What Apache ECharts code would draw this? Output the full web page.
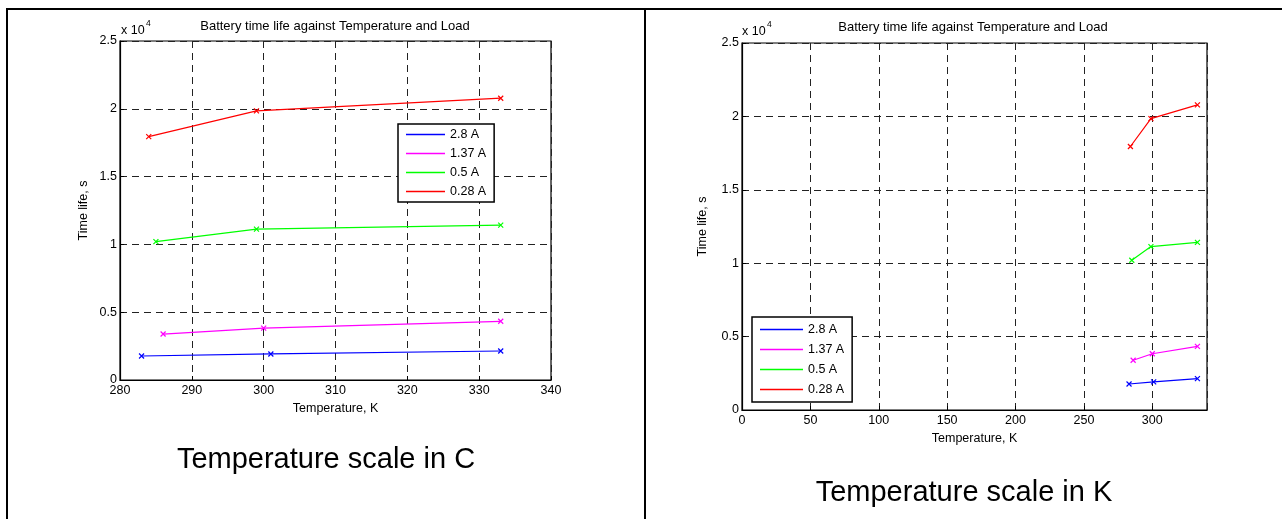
<!DOCTYPE html>
<html>
<head>
<meta charset="utf-8">
<title>Battery time life against Temperature and Load</title>
<script src="https://cdn.jsdelivr.net/npm/echarts@6/dist/echarts.min.js"></script>
<style>
  html, body { margin: 0; padding: 0; background: #fff; }
  #chart { width: 1282px; height: 519px; }
</style>
</head>
<body>
<div id="chart"></div>
<script>
// loads (legend order) and their colours
const loadNames = ["2.8 A", "1.37 A", "0.5 A", "0.28 A"]
const loadColors = ["#0000ff", "#ff00ff", "#00ff00", "#ff0000"]

// temperature (K) of each measurement, per load
const temp28 = [283, 301, 333]
const temp137 = [286, 300, 333]
const temp05 = [285, 299, 333]
const temp028 = [284, 299, 333]

// battery time life (s), per load
const life28 = [1770, 1920, 2140]
const life137 = [3390, 3830, 4330]
const life05 = [10200, 11130, 11420]
const life028 = [17950, 19850, 20780]

const temps = [temp28, temp137, temp05, temp028]
const lifes = [life28, life137, life05, life028]

const FONT = "'Liberation Sans', Arial, Helvetica, sans-serif"
const chartTitle = "Battery time life against Temperature and Load"
const captions = ["Temperature scale in C", "Temperature scale in K"]

const xMarker = "path://M0,0L10,10M10,0L0,10"

const gridDash = { color: "#222", width: 1, type: [7, 5] }

function xAxisFor(gridIndex, min, max, interval, nameGap) {
  return {
    type: "value",
    gridIndex,
    min,
    max,
    interval,
    name: "Temperature, K",
    nameLocation: "middle",
    nameGap,
    nameTextStyle: { color: "#000", fontSize: 12.5, fontFamily: FONT },
    axisLine: { show: true, onZero: false, lineStyle: { color: "#000", width: 1.2 } },
    axisTick: { show: true, inside: true, length: 4, lineStyle: { color: "#000" } },
    axisLabel: {
      color: "#000",
      fontSize: 12.5,
      fontFamily: FONT,
      margin: 4,
      showMaxLabel: max % interval === 0,
    },
    splitLine: { show: true, lineStyle: gridDash },
  }
}

function yAxisFor(gridIndex, nameGap) {
  return {
    type: "value",
    gridIndex,
    min: 0,
    max: 25000,
    interval: 5000,
    name: "Time life, s",
    nameLocation: "middle",
    nameRotate: 90,
    nameGap,
    nameTextStyle: { color: "#000", fontSize: 12.5, fontFamily: FONT },
    axisLine: { show: true, onZero: false, lineStyle: { color: "#000", width: 1.2 } },
    axisTick: { show: true, inside: true, length: 4, lineStyle: { color: "#000" } },
    axisLabel: {
      color: "#000",
      fontSize: 12.5,
      fontFamily: FONT,
      margin: 3,
      formatter: v => String(v / 10000),
    },
    splitLine: { show: true, lineStyle: gridDash },
  }
}

function seriesFor(gridIndex) {
  return loadNames.map((name, i) => ({
    type: "line",
    name,
    xAxisIndex: gridIndex,
    yAxisIndex: gridIndex,
    data: temps[i].map((t, k) => [t, lifes[i][k]]),
    symbol: xMarker,
    symbolSize: 5,
    showAllSymbol: true,
    lineStyle: { color: loadColors[i], width: 1.2 },
    itemStyle: { color: loadColors[i], borderColor: loadColors[i], borderWidth: 1.2 },
    emphasis: { disabled: true },
    animation: false,
  }))
}

function legendFor(left, top, padding, lineW, lineH) {
  return {
    orient: "vertical",
    left,
    top,
    padding,
    itemGap: 4,
    itemWidth: lineW,
    itemHeight: 1.5,
    icon: "rect",
    backgroundColor: "#fff",
    borderColor: "#000",
    borderWidth: 1.5,
    borderRadius: 0,
    selectedMode: false,
    data: loadNames.map((name, i) => ({
      name,
      itemStyle: { color: loadColors[i], borderColor: loadColors[i], borderWidth: 0 },
    })),
    textStyle: {
      color: "#000",
      fontSize: 12.5,
      fontFamily: FONT,
      lineHeight: lineH,
      padding: [0, 0, 0, 0],
    },
  }
}

function textAt(x, y, text, size, align) {
  return {
    type: "text",
    x,
    y,
    silent: true,
    style: {
      text,
      fill: "#000",
      fontSize: size,
      fontFamily: FONT,
      align: align || "center",
      verticalAlign: "middle",
    },
  }
}

function rule(x1, y1, x2, y2) {
  return {
    type: "line",
    silent: true,
    shape: { x1, y1, x2, y2 },
    style: { stroke: "#000", lineWidth: 2 },
  }
}

const chart = echarts.init(document.getElementById("chart"), null, { renderer: "canvas" })

chart.setOption({
  animation: false,
  grid: [
    { left: 120, top: 41, width: 431, height: 339, show: true, borderColor: "#000", borderWidth: 1.2, containLabel: false },
    { left: 742, top: 43, width: 465, height: 367, show: true, borderColor: "#000", borderWidth: 1.2, containLabel: false },
  ],
  xAxis: [
    xAxisFor(0, 280, 340, 10, 20),
    xAxisFor(1, 0, 340, 50, 22),
  ],
  yAxis: [
    yAxisFor(0, 30),
    yAxisFor(1, 33),
  ],
  legend: [
    legendFor(398, 124, [3, 8, 3, 8], 39, 15),
    legendFor(752, 317, [4.5, 8, 4.5, 8], 43, 16),
  ],
  series: [...seriesFor(0), ...seriesFor(1)],
  graphic: [
    // table frame
    rule(6, 9, 1282, 9),
    rule(7, 8, 7, 519),
    rule(645, 8, 645, 519),

    // chart titles
    textAt(335, 26, chartTitle, 13),
    textAt(973, 27, chartTitle, 13),

    // exponent labels above the y axes
    textAt(121, 31, "x 10", 12.5, "left"),
    textAt(146, 24, "4", 8.5, "left"),
    textAt(742, 32, "x 10", 12.5, "left"),
    textAt(767, 25, "4", 8.5, "left"),

    // captions under each chart
    textAt(326, 460, captions[0], 29),
    textAt(964, 493, captions[1], 29),
  ],
})
</script>
</body>
</html>
